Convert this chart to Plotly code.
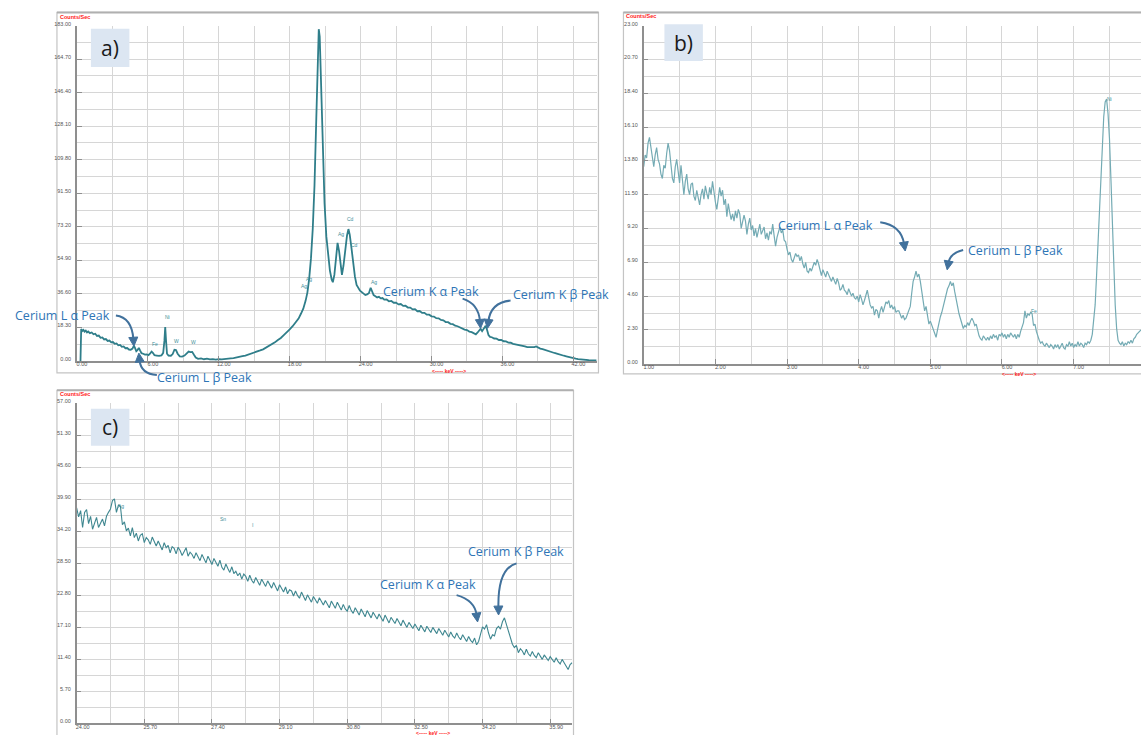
import math
import plotly.graph_objects as go

W, H = 1141, 735

# ---------------- data: panel a (full spectrum) ----------------
a_kev = [0.30, 0.36, 0.45, 0.55, 0.65, 0.75, 0.85, 0.95, 1.10, 1.25, 1.40, 1.55, 1.70, 1.85, 2.00, 2.15,
         2.30, 2.45, 2.60, 2.75, 2.90, 3.05, 3.20, 3.35, 3.50, 3.65, 3.80, 3.95, 4.10, 4.25, 4.40, 4.55,
         4.70, 4.82, 4.92, 5.02, 5.12, 5.24, 5.34, 5.46, 5.60, 5.75, 5.90, 6.05, 6.20, 6.32, 6.44, 6.56,
         6.75, 6.95, 7.15, 7.30, 7.40, 7.47, 7.54, 7.62, 7.75, 7.95, 8.10, 8.25, 8.38, 8.52, 8.70, 8.90,
         9.10, 9.30, 9.45, 9.60, 9.75, 9.90, 10.05, 10.25, 10.50, 10.75, 11.00, 11.25, 11.50, 11.75, 12.00,
         12.25, 12.50, 12.75, 13.00, 13.25, 13.50, 13.75, 14.00, 14.25, 14.50, 14.75, 15.00, 15.25, 15.50,
         15.75, 16.00, 16.25, 16.50, 16.75, 17.00, 17.25, 17.50, 17.75, 18.00, 18.25, 18.50, 18.75, 18.95,
         19.15, 19.35, 19.50, 19.65, 19.80, 19.95, 20.10, 20.25, 20.38, 20.46, 20.54, 20.66, 20.80, 20.95,
         21.10, 21.25, 21.40, 21.55, 21.65, 21.78, 21.92, 22.05, 22.18, 22.32, 22.42, 22.55, 22.70, 22.85,
         22.97, 23.08, 23.22, 23.38, 23.52, 23.66, 23.80, 23.95, 24.10, 24.25, 24.40, 24.55, 24.70, 24.85,
         24.97, 25.10, 25.25, 25.40, 25.55, 25.70, 25.85, 26.00, 26.20, 26.40, 26.60, 26.80, 27.00, 27.20,
         27.40, 27.60, 27.80, 28.00, 28.20, 28.40, 28.60, 28.80, 29.00, 29.20, 29.40, 29.60, 29.80, 30.00,
         30.20, 30.40, 30.60, 30.80, 31.00, 31.20, 31.40, 31.60, 31.80, 32.00, 32.20, 32.40, 32.60, 32.80,
         33.00, 33.20, 33.40, 33.60, 33.75, 33.90, 34.05, 34.15, 34.28, 34.42, 34.58, 34.70, 34.82, 34.95,
         35.10, 35.30, 35.50, 35.70, 35.90, 36.10, 36.30, 36.50, 36.70, 36.90, 37.10, 37.30, 37.50, 37.70,
         37.90, 38.10, 38.30, 38.50, 38.70, 38.85, 39.00, 39.20, 39.40, 39.60, 39.80, 40.00, 40.20, 40.40,
         40.60, 40.80, 41.00, 41.20, 41.40, 41.60, 41.80, 42.00, 42.20, 42.40, 42.60, 42.80, 43.00, 43.30,
         43.60, 43.95]
a_cps = [0.0, 17.5, 16.4, 17.0, 16.0, 16.6, 15.6, 16.1, 15.2, 15.6, 14.6, 14.9, 13.7, 13.9, 12.7, 12.9,
         11.8, 12.0, 11.0, 11.2, 10.2, 10.4, 9.4, 9.6, 8.6, 8.8, 7.8, 8.0, 7.0, 7.1, 6.3, 6.2,
         6.8, 8.4, 7.0, 5.4, 6.0, 7.2, 5.8, 4.3, 4.0, 3.5, 3.6, 3.2, 4.2, 5.2, 4.4, 3.2,
         3.0, 2.8, 3.1, 4.5, 11.0, 18.5, 11.0, 4.0, 3.0, 2.9, 3.8, 6.2, 6.0, 4.0, 2.6, 2.4,
         3.0, 4.6, 5.2, 4.9, 5.0, 3.4, 1.9, 1.2, 1.5, 1.0, 1.3, 0.9, 1.1, 0.8, 1.1,
         0.9, 1.2, 1.2, 1.5, 1.6, 2.1, 2.2, 2.7, 3.0, 3.5, 3.9, 4.5, 5.0, 5.8,
         6.4, 7.3, 8.1, 9.3, 10.2, 11.5, 12.6, 14.2, 15.6, 17.3, 19.0, 21.0, 23.2, 25.8,
         28.6, 33.0, 37.5, 45.0, 56.0, 72.0, 96.0, 132.0, 165.0, 181.0, 177.0, 148.0, 112.0, 86.0,
         68.0, 57.0, 49.5, 44.5, 43.0, 47.0, 57.0, 64.5, 60.0, 50.0, 47.0, 52.0, 61.0, 68.5,
         72.0, 69.0, 62.0, 53.0, 46.0, 41.5, 39.6, 38.4, 37.6, 36.5, 36.0, 36.4, 37.0, 40.0,
         38.2, 36.0, 35.4, 34.7, 35.1, 34.2, 34.4, 33.5, 33.6, 32.6, 32.8, 31.8, 31.9, 30.9,
         31.1, 30.1, 30.2, 29.2, 29.2, 28.2, 28.3, 27.2, 27.3, 26.3, 26.3, 25.3, 25.3, 24.4,
         24.3, 23.4, 23.3, 22.4, 22.2, 21.3, 21.2, 20.3, 20.1, 19.3, 19.0, 18.3, 17.9, 17.2,
         16.9, 16.1, 15.8, 15.0, 14.6, 15.6, 16.8, 17.6, 16.3, 17.6, 19.2, 17.0, 14.2, 13.2,
         13.0, 12.3, 12.2, 11.5, 11.5, 10.8, 10.7, 10.1, 10.0, 9.4, 9.2, 8.8, 8.6, 8.2,
         8.0, 7.6, 7.5, 7.3, 7.6, 8.0, 7.4, 6.8, 6.5, 6.0, 5.7, 5.2, 4.9, 4.4,
         4.1, 3.6, 3.3, 2.9, 2.6, 2.2, 1.9, 1.6, 1.3, 1.1, 0.9, 0.8, 0.6, 0.5,
         0.4, 0.4]
a_xticks = [0, 6, 12, 18, 24, 30, 36, 42]
a_yticks = [0, 18.3, 36.6, 54.9, 73.2, 91.5, 109.8, 128.1, 146.4, 164.7, 183.0]

# ---------------- data: panel b (1-8 keV zoom), channel width 0.02 keV from 1.00 keV ----------------
b_start_kev = 1.00
b_channel_kev = 0.02
b_cps = [13.4, 14.2, 14.0, 15.0, 15.4, 14.6, 13.8, 13.4, 14.2, 14.7,
         13.9, 13.6, 12.9, 12.6, 13.5, 13.3, 14.3, 15.0, 14.5, 13.6,
         12.6, 12.3, 13.4, 13.9, 13.2, 12.3, 13.5, 12.2, 11.5, 12.4,
         12.9, 11.9, 11.5, 12.2, 12.3, 11.4, 11.1, 11.8, 11.3, 10.8,
         11.5, 11.9, 11.2, 12.1, 11.6, 11.2, 12.0, 11.5, 12.4, 11.6,
         11.0, 10.5, 11.3, 12.0, 11.4, 11.8, 10.8, 11.2, 10.0, 10.9,
         10.3, 9.8, 10.2, 9.7, 10.4, 9.9, 10.5, 10.2, 9.2, 9.6,
         10.1, 9.7, 8.8, 9.5, 9.9, 9.1, 9.4, 8.7, 9.2, 8.6,
         9.0, 9.5, 8.8, 9.1, 9.3, 8.5, 8.9, 8.4, 9.0, 8.8,
         9.5, 8.7, 8.0, 8.6, 9.0, 9.3, 8.9, 9.1, 8.4, 8.3,
         7.8, 7.4, 7.6, 7.1, 6.9, 7.2, 7.5, 7.3, 7.4, 7.0,
         7.3, 6.8, 6.5, 6.9, 6.3, 6.2, 6.5, 6.3, 6.6, 6.9,
         6.7, 7.1, 6.8, 6.4, 6.0, 6.4, 6.2, 5.9, 6.3, 6.1,
         5.8, 5.6, 5.9, 5.7, 5.4, 5.8, 5.5, 5.0, 5.1, 5.4,
         5.0, 4.9, 4.7, 5.1, 4.8, 4.6, 4.8, 4.5, 4.4, 4.6,
         4.2, 4.7, 4.4, 4.0, 4.3, 4.6, 5.0, 4.5, 4.0, 3.8,
         3.9, 3.3, 3.7, 3.6, 3.1, 3.6, 3.9, 3.5, 3.9, 4.2,
         4.1, 4.3, 3.8, 4.0, 3.7, 3.9, 3.5, 3.6, 3.6, 3.4,
         3.1, 3.3, 3.0, 3.1, 3.4, 3.6, 3.9, 4.8, 5.6, 5.9,
         6.3, 5.9, 6.1, 5.6, 4.8, 4.2, 3.6, 3.9, 3.1, 2.7,
         2.9, 2.6, 2.4, 2.1, 1.8, 2.3, 2.8, 3.2, 3.5, 3.9,
         4.2, 4.8, 5.1, 5.3, 5.6, 5.3, 5.5, 4.9, 4.5, 3.9,
         3.4, 3.0, 2.6, 2.4, 2.6, 2.5, 2.8, 2.6, 2.9, 3.1,
         2.9, 2.6, 2.7, 2.2, 1.9, 1.7, 1.6, 1.9, 1.7, 1.6,
         1.8, 1.6, 1.9, 1.7, 2.0, 1.8, 1.9, 1.6, 2.0, 1.9,
         2.1, 1.8, 2.0, 1.7, 2.0, 1.8, 2.1, 1.9, 1.8, 2.0,
         1.7, 2.0, 1.8, 2.2, 2.5, 2.8, 3.6, 3.1, 3.4, 3.3,
         3.5, 3.4, 2.6, 2.7, 2.2, 1.8, 1.6, 1.4, 1.5, 1.3,
         1.2, 1.4, 1.2, 1.1, 1.3, 1.2, 1.0, 1.3, 1.1, 1.3,
         1.0, 1.2, 1.4, 1.1, 1.0, 1.3, 1.2, 1.5, 1.2, 1.4,
         1.1, 1.3, 1.2, 1.5, 1.2, 1.4, 1.3, 1.1, 1.4, 1.3,
         1.5, 1.4, 1.6, 2.0, 2.8, 4.0, 6.0, 8.2, 10.8, 13.0,
         15.2, 16.8, 17.8, 18.0, 17.0, 15.3, 12.6, 9.2, 6.2, 4.0,
         2.4, 1.6, 1.4, 1.3, 1.5, 1.2, 1.4, 1.3, 1.5, 1.4,
         1.6, 1.4, 1.7, 1.8, 2.0, 2.1, 2.2, 2.3]
b_xticks = [1, 2, 3, 4, 5, 6, 7]
b_yticks = [0, 2.3, 4.6, 6.9, 9.2, 11.5, 13.8, 16.1, 18.4, 20.7, 23.0]

# ---------------- data: panel c (24-36 keV zoom), channel width 0.05 keV from 24.00 keV ----------------
c_start_kev = 24.00
c_channel_kev = 0.05
c_cps = [38.4, 36.8, 37.9, 34.9, 37.6, 38.1, 35.6, 36.9, 34.6, 35.8,
         36.7, 34.9, 35.6, 36.4, 35.2, 36.9, 37.6, 38.2, 39.7, 40.0,
         37.6, 38.9, 38.7, 35.4, 35.9, 34.3, 34.8, 33.4, 34.9, 33.1,
         33.9, 32.5, 33.5, 33.8, 32.2, 33.1, 32.7, 31.9, 33.2, 32.4,
         31.6, 32.5, 31.8, 30.9, 32.2, 31.3, 31.7, 30.4, 31.5, 31.2,
         30.2, 31.4, 30.8, 29.9, 30.6, 31.3, 29.8, 30.5, 30.1, 29.4,
         30.4, 29.6, 29.0, 30.1, 29.3, 28.6, 29.8, 28.9, 28.3, 29.4,
         28.6, 28.0, 29.1, 27.8, 27.3, 28.4, 27.6, 26.9, 27.9, 26.7,
         27.1, 26.3, 26.8, 25.7, 26.6, 26.2, 25.3, 26.4, 25.5, 25.0,
         26.0, 25.2, 24.6, 25.7, 24.9, 24.4, 25.4, 24.6, 24.1, 25.1,
         24.4, 23.6, 24.7, 23.9, 23.4, 24.3, 23.1, 23.8, 23.6, 22.7,
         23.6, 22.8, 22.3, 23.4, 22.5, 21.9, 22.9, 22.2, 21.6, 22.6,
         22.1, 21.4, 22.4, 21.7, 21.1, 21.9, 21.3, 20.6, 21.8, 21.0,
         20.5, 21.6, 20.9, 20.2, 21.2, 20.4, 20.0, 21.0, 20.1, 19.6,
         20.6, 19.8, 19.3, 20.4, 19.6, 19.0, 20.1, 19.4, 18.8, 19.8,
         19.2, 18.6, 19.5, 18.9, 18.2, 19.3, 18.5, 17.9, 18.9, 18.3,
         17.8, 18.7, 18.0, 17.4, 18.4, 17.7, 17.1, 18.0, 17.4, 16.9,
         17.7, 17.0, 16.5, 17.5, 16.8, 16.3, 17.3, 16.7, 16.2, 17.1,
         16.6, 16.0, 16.9, 16.3, 15.7, 16.6, 15.9, 15.4, 16.3, 15.6,
         15.2, 16.1, 15.4, 14.9, 15.8, 15.1, 14.6, 15.5, 14.8, 14.4,
         15.2, 14.0, 14.6, 15.9, 17.2, 16.8, 17.6, 16.1, 15.0, 15.8,
         15.6, 16.9, 17.3, 16.8, 18.1, 18.8, 17.6, 16.4, 15.3, 14.1,
         13.5, 13.9, 12.6, 13.3, 12.9, 12.2, 13.2, 12.4, 12.0, 12.8,
         12.1, 11.7, 12.6, 12.0, 11.4, 12.2, 11.6, 11.2, 11.9, 11.4,
         10.9, 11.7, 11.0, 10.6, 11.4, 10.8, 10.1, 9.6, 10.5, 10.8]
c_xticks = [24.0, 25.7, 27.4, 29.1, 30.8, 32.5, 34.2, 35.9]
c_yticks = [0, 5.7, 11.4, 17.1, 22.8, 28.5, 34.2, 39.9, 45.6, 51.3, 57.0]

b_kev = [round(b_start_kev + b_channel_kev * i, 3) for i in range(len(b_cps))]
c_kev = [round(c_start_kev + c_channel_kev * i, 3) for i in range(len(c_cps))]

# ---------------- styling ----------------
GRID = "#d6d6d6"
AXC = "#8f8f8f"
TXT_BLUE = "#2E75B6"
ARROW = "#41719C"
LBL_FILL = "#DCE6F2"


def px(x):
    return x / W


def py(y):
    return 1 - y / H


fig = go.Figure()
fig.add_trace(go.Scatter(x=a_kev, y=a_cps, mode="lines", line=dict(color="#2f7e8a", width=1.8),
                         xaxis="x", yaxis="y", showlegend=False, hoverinfo="skip"))
fig.add_trace(go.Scatter(x=b_kev, y=b_cps, mode="lines", line=dict(color="#74abb4", width=1.2),
                         xaxis="x2", yaxis="y2", showlegend=False, hoverinfo="skip"))
fig.add_trace(go.Scatter(x=c_kev, y=c_cps, mode="lines", line=dict(color="#3f8790", width=1.1),
                         xaxis="x3", yaxis="y3", showlegend=False, hoverinfo="skip"))


def axis(domain, rng, ticks, minor_step, anchor, shift, standoff):
    return dict(domain=domain, range=rng, tickmode="array", tickvals=ticks,
                ticktext=[f"{t:.2f}" for t in ticks],
                showgrid=True, gridcolor=GRID, gridwidth=1.3,
                minor=dict(tick0=ticks[0], dtick=minor_step, showgrid=True, gridcolor=GRID, gridwidth=1.3),
                showline=True, linecolor=AXC, linewidth=1.5,
                ticks="inside", ticklen=5, tickcolor=AXC, tickwidth=1,
                tickfont=dict(size=5.5, color="#555555", family="Liberation Sans"),
                zeroline=False, anchor=anchor, fixedrange=True,
                ticklabelshift=shift, ticklabelstandoff=standoff)


fig.update_layout(
    width=W, height=H, margin=dict(l=0, r=0, t=0, b=0), autosize=False,
    paper_bgcolor="white", plot_bgcolor="white",
    xaxis=axis([px(76), px(597)], [0, 44.04], a_xticks, 3, "y", 5, -3),
    yaxis=axis([py(359), py(20.7)], [0, 183.02], a_yticks, 9.15, "x", -2, 3),
    xaxis2=axis([px(643.3), 1.0], [1.0, 7.94], b_xticks, 0.5, "y2", 5, -3),
    yaxis2=axis([py(361.7), py(20.7)], [0, 23.003], b_yticks, 1.15, "x2", -2, 3),
    xaxis3=axis([px(75.7), px(572)], [24.0, 36.46], c_xticks, 0.85, "y3", 6, -3),
    yaxis3=axis([py(724.3), py(401.7)], [0, 57.01], c_yticks, 2.85, "x3", -2, 3),
)

shapes = []
annotations = []

# panel frames
for (x0, y0, x1, y1) in [(56, 7.5, 598, 371), (623, 7.5, 1143, 372), (56, 388.5, 573, 737)]:
    shapes.append(dict(type="rect", xref="paper", yref="paper", x0=px(x0), y0=py(y1), x1=px(x1), y1=py(y0),
                       line=dict(color="#c4c4c4", width=1.2), fillcolor="rgba(0,0,0,0)", layer="below"))
    shapes.append(dict(type="line", xref="paper", yref="paper", x0=px(x0), y0=py(y0), x1=px(x1), y1=py(y0),
                       line=dict(color="#b0b0b0", width=2)))

# red axis captions
for (x, y) in [(57, 12), (624, 11), (57, 392)]:
    annotations.append(dict(text="<b>Counts/Sec</b>", x=px(x), y=py(y), xref="paper", yref="paper",
                            xanchor="left", yanchor="middle", showarrow=False,
                            font=dict(size=5.5, color="#ff2020", family="Liberation Sans")))
for (x, y) in [(448, 369.5), (1019, 372.5), (432, 734)]:
    annotations.append(dict(text="<b>&lt;----- keV -----&gt;</b>", x=px(x), y=py(y), xref="paper", yref="paper",
                            xanchor="center", yanchor="middle", showarrow=False, borderpad=0,
                            font=dict(size=5, color="#ff2020", family="Liberation Sans")))

# panel label boxes
for (lab, x0, y0, x1, y1) in [("a)", 90, 24, 128.5, 62.5), ("b)", 664, 19.5, 702.5, 56.5), ("c)", 90, 407, 128.5, 444.5)]:
    shapes.append(dict(type="rect", xref="paper", yref="paper", x0=px(x0), y0=py(y1), x1=px(x1), y1=py(y0),
                       line=dict(width=0), fillcolor=LBL_FILL, layer="above"))
    annotations.append(dict(text=lab, x=px((x0 + x1) / 2), y=py((y0 + y1) / 2), xref="paper", yref="paper",
                            xanchor="center", yanchor="middle", showarrow=False,
                            font=dict(size=21, color="#1a1a1a", family="Open Sans")))

# small element labels
el_labels = [("Fe", 154, 342), ("Ni", 166.5, 315), ("W", 176, 339), ("W", 192.5, 339.5),
             ("Ag", 303, 283), ("Ag", 308, 276), ("Ag", 340, 230.5), ("Cd", 350, 215.5), ("Cd", 354, 241.5),
             ("Ag", 373.5, 279), ("Ni", 1109, 95), ("Fe", 1034, 309),
             ("Ag", 120, 505), ("Sn", 222, 518), ("I", 252, 524)]
for (t, x, y) in el_labels:
    annotations.append(dict(text=t, x=px(x), y=py(y), xref="paper", yref="paper", showarrow=False,
                            xanchor="center", yanchor="middle",
                            font=dict(size=5, color="#3f8f9a", family="Liberation Sans")))

# peak call-outs
callouts = [("Cerium L \u03b1 Peak", 62, 313.5), ("Cerium L \u03b2 Peak", 204, 376),
            ("Cerium K \u03b1 Peak", 430, 289), ("Cerium K \u03b2 Peak", 560, 292),
            ("Cerium L \u03b1 Peak", 825, 222), ("Cerium L \u03b2 Peak", 1015, 248),
            ("Cerium K \u03b1 Peak", 427, 584), ("Cerium K \u03b2 Peak", 515, 551)]
for (t, x, y) in callouts:
    annotations.append(dict(text=t, x=px(x), y=py(y), xref="paper", yref="paper", showarrow=False,
                            xanchor="center", yanchor="middle", borderpad=0,
                            font=dict(size=12.5, color=TXT_BLUE, family="Open Sans")))


def curved_arrow(x0, y0, cx, cy, x1, y1):
    dx, dy = x1 - cx, y1 - cy
    n = math.hypot(dx, dy)
    ux, uy = dx / n, dy / n
    L, Wd = 9.0, 4.5
    bx, by = x1 - ux * L, y1 - uy * L
    shapes.append(dict(type="path", xref="paper", yref="paper",
                       path=f"M {px(x0)},{py(y0)} Q {px(cx)},{py(cy)} {px(bx + ux * 2)},{py(by + uy * 2)}",
                       line=dict(color=ARROW, width=2), fillcolor="rgba(0,0,0,0)"))
    p1 = (bx - uy * Wd, by + ux * Wd)
    p2 = (bx + uy * Wd, by - ux * Wd)
    shapes.append(dict(type="path", xref="paper", yref="paper",
                       path=f"M {px(x1)},{py(y1)} L {px(p1[0])},{py(p1[1])} L {px(p2[0])},{py(p2[1])} Z",
                       line=dict(color=ARROW, width=1), fillcolor=ARROW))


curved_arrow(115, 313, 131, 315, 133, 344)
curved_arrow(156, 373, 140, 372, 138, 351)
curved_arrow(462, 296, 478, 301, 480, 326)
curved_arrow(510, 298, 490, 300, 487, 326)
curved_arrow(880, 219, 901, 222, 905, 248)
curved_arrow(963, 247, 950, 250, 947, 267)
curved_arrow(456, 595, 474, 600, 477, 622)
curved_arrow(516, 563, 497, 568, 498, 615)

fig.update_layout(shapes=shapes, annotations=annotations)
fig.write_html("out.html")
